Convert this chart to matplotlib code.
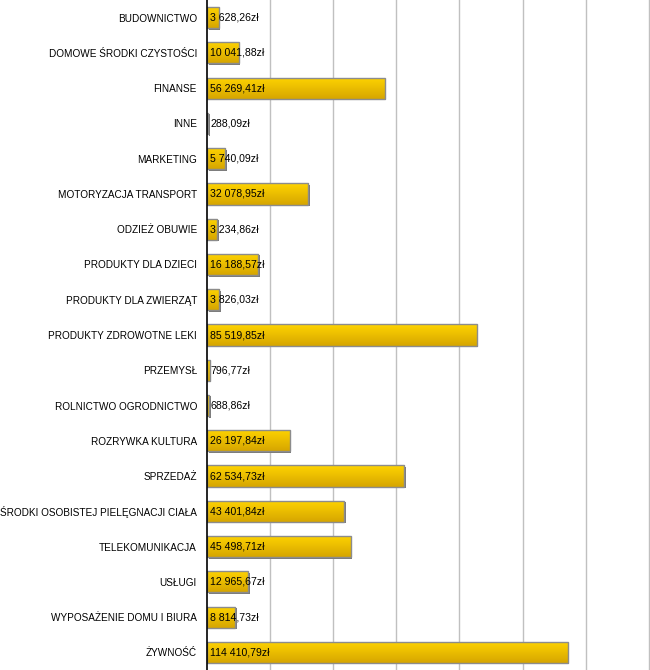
"""Horizontal bar chart of spending per category (zł)."""

import matplotlib

matplotlib.use("Agg")
import matplotlib.pyplot as plt
import numpy as np
from matplotlib.patches import Rectangle

categories = [
    "BUDOWNICTWO",
    "DOMOWE ŚRODKI CZYSTOŚCI",
    "FINANSE",
    "INNE",
    "MARKETING",
    "MOTORYZACJA TRANSPORT",
    "ODZIEŻ OBUWIE",
    "PRODUKTY DLA DZIECI",
    "PRODUKTY DLA ZWIERZĄT",
    "PRODUKTY ZDROWOTNE LEKI",
    "PRZEMYSŁ",
    "ROLNICTWO OGRODNICTWO",
    "ROZRYWKA KULTURA",
    "SPRZEDAŻ",
    "ŚRODKI OSOBISTEJ PIELĘGNACJI CIAŁA",
    "TELEKOMUNIKACJA",
    "USŁUGI",
    "WYPOSAŻENIE DOMU I BIURA",
    "ŻYWNOŚĆ",
]
values = [
    3628.26, 10041.88, 56269.41, 288.09, 5740.09, 32078.95, 3234.86,
    16188.57, 3826.03, 85519.85, 796.77, 688.86, 26197.84, 62534.73,
    43401.84, 45498.71, 12965.67, 8814.73, 114410.79,
]
grid_ticks = [20000, 40000, 60000, 80000, 100000, 120000, 140000]


def format_pln(value: float) -> str:
    whole, frac = f"{value:,.2f}".split(".")
    return whole.replace(",", " ") + "," + frac + "zł"


plt.rcParams["font.family"] = ["Liberation Sans", "DejaVu Sans"]

fig = plt.figure(figsize=(6.5, 6.7), dpi=100)
ax = fig.add_axes([207.3 / 650, 0.0, 1 - 207.3 / 650, 1.0])

x_max = 140430
ax.set_xlim(0, x_max)
ax.set_ylim(len(categories) - 0.5, -0.5)

px_x = x_max / (650 - 207.3)
px_y = len(categories) / 670.0
bar_height = 0.6

gradient = np.linspace(0, 1, 64).reshape(-1, 1)
cmap = matplotlib.colors.LinearSegmentedColormap.from_list("gold", ["#ffd400", "#d6a600"])

for i, value in enumerate(values):
    top = i - bar_height / 2
    # shadow
    ax.add_patch(Rectangle((1.5 * px_x, top + 1.5 * px_y), value, bar_height,
                           facecolor="#7a7a7a", edgecolor="none", zorder=2))
    bar = Rectangle((0, top), value, bar_height, facecolor="none",
                    edgecolor="#8c8c8c", linewidth=1.0, zorder=4)
    ax.add_patch(bar)
    img = ax.imshow(gradient, cmap=cmap, aspect="auto",
                    extent=(0, value, top + bar_height, top), zorder=3)
    img.set_clip_path(Rectangle((0, top), value, bar_height, transform=ax.transData))
    ax.annotate(format_pln(value), (0, i), xytext=(3, 0), textcoords="offset pixels",
                ha="left", va="center", fontsize=7.6, color="black", zorder=5)

ax.set_xlim(0, x_max)
ax.set_ylim(len(categories) - 0.5, -0.5)

for tick in grid_ticks:
    ax.axvline(tick, color="#c0c0c0", linewidth=1.0, zorder=1)

ax.set_yticks(range(len(categories)))
ax.set_yticklabels(categories, fontsize=7.2)
ax.tick_params(axis="y", length=0, pad=7.5)
ax.set_xticks([])
for side in ("top", "right", "bottom"):
    ax.spines[side].set_visible(False)
ax.spines["left"].set_color("black")
ax.spines["left"].set_linewidth(1.2)
ax.spines["left"].set_zorder(6)

fig.savefig("out.png", dpi=100)
plt.close(fig)
